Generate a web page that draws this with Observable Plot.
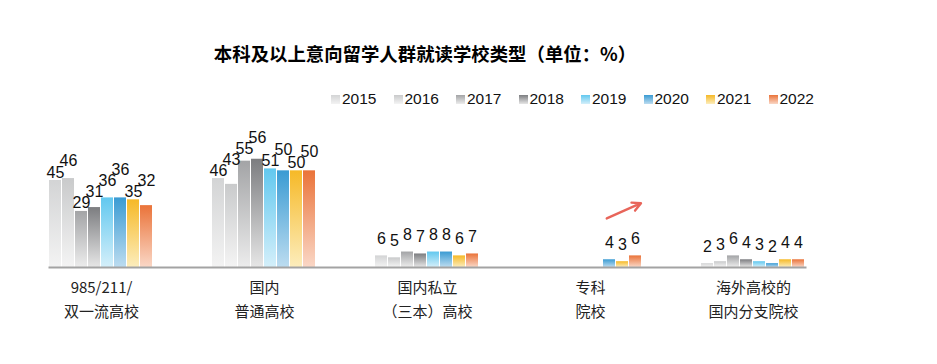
<!DOCTYPE html>
<html>
<head>
<meta charset="utf-8">
<script src="https://cdn.jsdelivr.net/npm/d3@7"></script>
<script src="https://cdn.jsdelivr.net/npm/@observablehq/plot@0.6"></script>
<style>
  html, body { margin: 0; padding: 0; background: #fff; }
  #wrap { position: relative; width: 937px; height: 364px; overflow: hidden; }
  #title { position: absolute; top: 40px; left: 0; width: 850px; text-align: center;
    font: bold 18.4px "Noto Sans CJK SC", sans-serif; color: #000; }
  #legend { position: absolute; top: 90px; left: 331px; display: flex;
    font: 15.5px "Liberation Sans", Arial, sans-serif; color: #111; }
  .item { width: 62.5px; display: flex; align-items: center; }
  .sw { width: 9px; height: 9px; margin-right: 2px; }
  #chart { position: absolute; top: 0; left: 0; }
</style>
</head>
<body>
<div id="wrap">
  <div id="chart"></div>
  <div id="title"></div>
  <div id="legend"></div>
</div>
<script>
const titleText = "本科及以上意向留学人群就读学校类型（单位：%）";
const years = ["2015", "2016", "2017", "2018", "2019", "2020", "2021", "2022"];
const categories = ["985/211/双一流高校", "国内普通高校", "国内私立（三本）高校", "专科院校", "海外高校的国内分支院校"];
const categoryLabels = ["985/211/\n双一流高校", "国内\n普通高校", "国内私立\n（三本）高校", "专科\n院校", "海外高校的\n国内分支院校"];

const values985 = [45, 46, 29, 31, 36, 36, 35, 32];
const valuesGeneral = [46, 43, 55, 56, 51, 50, 50, 50];
const valuesPrivate = [6, 5, 8, 7, 8, 8, 6, 7];
const valuesJunior = [null, null, null, null, null, 4, 3, 6];
const valuesOverseas = [2, 3, 6, 4, 3, 2, 4, 4];

// annotation arrow for 专科院校 (from 2020 to 2022)
const trendArrow = [{cat: "专科院校", from: "2020", to: "2022", v1: 26, v2: 32}];

const gradients = {
  "2015": ["#d3d4d5", "#f3f3f3"],
  "2016": ["#c9cacb", "#f4f4f4"],
  "2017": ["#a3a4a6", "#ececec"],
  "2018": ["#7c7d80", "#e6e6e6"],
  "2019": ["#62c8ef", "#d4effa"],
  "2020": ["#3a9bd3", "#bcdcf0"],
  "2021": ["#f6b927", "#fcedbc"],
  "2022": ["#ea7339", "#fad7c6"]
};

// label placement (in value units): small gap above bar, two-digit neighbours
// are lifted so they do not collide
const gapTwoDigit = 1.55, gapOneDigit = 6.2, minSep = 5.7;

const series = [values985, valuesGeneral, valuesPrivate, valuesJunior, valuesOverseas];
const data = [];
categories.forEach((c, ci) => {
  let prev = null;
  years.forEach((y, yi) => {
    const v = series[ci][yi];
    if (v == null) { prev = null; return; }
    const wide = v >= 10;
    let ly = v + (wide ? gapTwoDigit : gapOneDigit);
    if (wide && prev && prev.wide && Math.abs(ly - prev.ly) < minSep) ly = prev.ly + minSep;
    const d = {cat: c, year: y, value: v, ly, wide};
    data.push(d);
    prev = d;
  });
});
const labelOf = new Map(categories.map((c, i) => [c, categoryLabels[i]]));

document.getElementById("title").textContent = titleText;
const legend = document.getElementById("legend");
years.forEach(y => {
  const it = document.createElement("div");
  it.className = "item";
  const sw = document.createElement("span");
  sw.className = "sw";
  sw.style.background = `linear-gradient(${gradients[y][0]}, ${gradients[y][1]})`;
  const t = document.createElement("span");
  t.textContent = y;
  it.appendChild(sw); it.appendChild(t);
  legend.appendChild(it);
});

const chart = Plot.plot({
  width: 937,
  height: 364,
  marginTop: 151,
  marginBottom: 97,
  marginLeft: 19,
  marginRight: 101.5,
  style: {background: "transparent", overflow: "visible"},
  fx: {domain: categories, paddingInner: 0.362, paddingOuter: 0.181},
  x: {domain: years, paddingInner: 0.07, paddingOuter: 0, axis: null},
  y: {domain: [0, 60], axis: null},
  color: {type: "identity"},
  marks: [
    Plot.barY(data, {fx: "cat", x: "year", y: "value", fill: d => `url(#g${d.year})`}),
    Plot.frame({anchor: "bottom", facet: "super", stroke: "#a3a3a3", strokeWidth: 2}),
    Plot.text(data, {fx: "cat", x: "year", y: "ly", text: d => String(d.value),
      lineAnchor: "bottom", fontSize: 16, fill: "#111",
      fontFamily: "Liberation Sans, Arial, sans-serif"}),
    Plot.arrow(trendArrow, {fx: "cat", x1: "from", x2: "to", y1: "v1", y2: "v2",
      stroke: "#e8655a", strokeWidth: 2.4, headLength: 12, headAngle: 55,
      insetStart: -3, insetEnd: -6}),
    Plot.axisFx({anchor: "bottom", tickSize: 0, tickPadding: 8, label: null,
      tickFormat: d => labelOf.get(d), fontSize: 15, lineHeight: 1.6,
      fill: "#222", fontFamily: "Noto Sans CJK SC, sans-serif"})
  ]
});

// gradient definitions
const ns = "http://www.w3.org/2000/svg";
const defs = document.createElementNS(ns, "defs");
years.forEach(y => {
  const g = document.createElementNS(ns, "linearGradient");
  g.setAttribute("id", "g" + y);
  g.setAttribute("x1", "0"); g.setAttribute("y1", "0");
  g.setAttribute("x2", "0"); g.setAttribute("y2", "1");
  [[0, gradients[y][0]], [1, gradients[y][1]]].forEach(([o, c]) => {
    const s = document.createElementNS(ns, "stop");
    s.setAttribute("offset", o);
    s.setAttribute("stop-color", c);
    g.appendChild(s);
  });
  defs.appendChild(g);
});
chart.insertBefore(defs, chart.firstChild);
document.getElementById("chart").appendChild(chart);
</script>
</body>
</html>
